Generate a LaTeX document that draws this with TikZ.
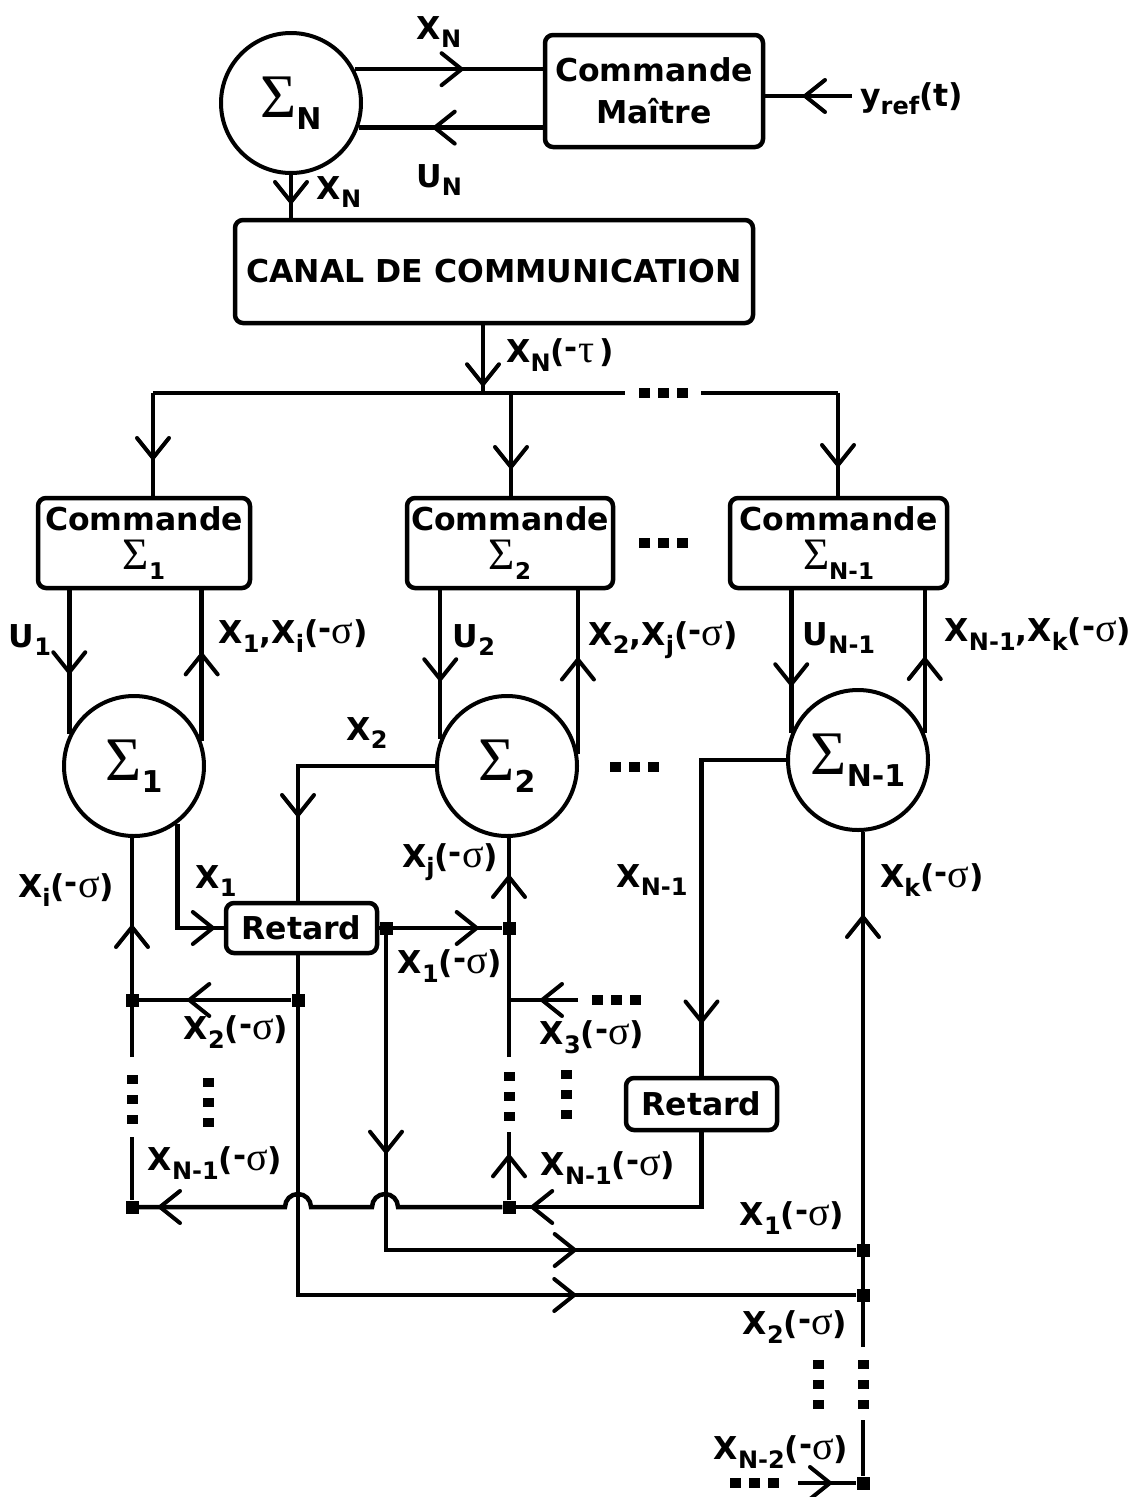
\documentclass[tikz,border=0pt]{standalone}
\usepackage{fontspec}
\setmainfont{DejaVu Sans}
\newfontfamily\gr{Liberation Serif}
\usetikzlibrary{decorations.markings}
\newcommand\Sb[1]{\raisebox{-8.5pt}{\fontsize{24}{24}\selectfont #1}}
\newcommand\sg{{\gr\mdseries\fontsize{40}{40}\selectfont σ}}
\newcommand\tu{{\gr\mdseries\fontsize{40}{40}\selectfont τ}}
\newcommand\Ms{(\raisebox{4pt}{-}\sg)}
\newcommand\CS[1]{{\gr\mdseries\fontsize{62}{62}\selectfont Σ}\raisebox{-12pt}{\fontsize{30}{30}\selectfont #1}}
\newcommand\BS[1]{{\gr\mdseries\fontsize{45}{45}\selectfont Σ}\raisebox{-10pt}{\fontsize{23}{23}\selectfont #1}}
\newcommand\hd[2]{\foreach \dx in {-19,0,19} \fill ({#1+\dx-5.5},{#2-5}) rectangle ({#1+\dx+5.5},{#2+5});}
\newcommand\vd[2]{\foreach \dy in {-20,0,20} \fill ({#1-5.5},{#2+\dy-4.5}) rectangle ({#1+5.5},{#2+\dy+4.5});}
\begin{document}
\begin{tikzpicture}[x=1pt,y=-1pt,
 every node/.style={font=\bfseries\fontsize{31.5}{36}\selectfont, inner sep=0pt},
 ln/.style={line width=4.5pt},
 circ/.style={draw, circle, line width=4pt, minimum size=140pt, inner sep=0pt},
 box/.style={draw, rounded corners=8pt, line width=4.5pt, inner sep=0pt, align=center},
 jn/.style={fill, rectangle, minimum size=13pt, inner sep=0pt},
 ar/.style={postaction={decorate,decoration={markings,mark=at position #1 with {\draw[line width=4pt,line cap=round,line join=miter] (-20pt,16pt)--(0pt,0pt)--(-20pt,-16pt);}}}},
]
\fill[white] (0,0) rectangle (1146,1497);
\useasboundingbox (0,0) rectangle (1146,1497);

% ---------- main nodes ----------
\node[circ] (sN) at (291,103) {\CS{N}};
\node[box, minimum width=218pt, minimum height=112pt] (cm) at (654,91) {Commande\\[5.5pt]Maître};
\node[anchor=base west] (yr) at (860,106) {y\Sb{ref}(t)};
\node[box, minimum width=518pt, minimum height=103pt] (canal) at (494,271.5) {CANAL DE COMMUNICATION};

\node[box, minimum width=212pt, minimum height=90pt] (b1) at (144,543) {Commande\\[3pt]\BS{1}};
\node[box, minimum width=206pt, minimum height=90pt] (b2) at (510,543) {Commande\\[3pt]\BS{2}};
\node[box, minimum width=217pt, minimum height=90pt] (b3) at (838.5,543) {Commande\\[3pt]\BS{N-1}};

\node[circ] (s1) at (134,766) {\CS{1}};
\node[circ] (s2) at (507,766) {\CS{2}};
\node[circ] (s3) at (858,760) {\CS{N-1}};

\node[box, minimum width=151pt, minimum height=50pt] (r1) at (301.5,928) {Retard};
\node[box, minimum width=151pt, minimum height=52pt] (r2) at (701.5,1104) {Retard};

% junctions
\node[jn] (j1) at (386,928) {};
\node[jn] (j2) at (509,928) {};
\node[jn] (j3) at (298,1000) {};
\node[jn] (j4) at (132,1000) {};
\node[jn] (j5) at (132,1207) {};
\node[jn] (j6) at (509,1207) {};
\node[jn] (jR1) at (863,1250) {};
\node[jn] (jR2) at (863,1295) {};
\node[jn] (jR3) at (863,1483) {};

% free ends
\coordinate (yin) at (852,96);
\coordinate (bus) at (483,393);
\coordinate (bL) at (153,393);
\coordinate (bM) at (511,393);
\coordinate (bR) at (838,393);
\coordinate (bg1) at (625,393);
\coordinate (bg2) at (701,393);
\coordinate (lv1) at (132,1057);
\coordinate (lv2) at (132,1137);
\coordinate (mv1) at (509,1057);
\coordinate (mv2) at (509,1132);
\coordinate (x3) at (578,1000);
\coordinate (rv1) at (863,1347);
\coordinate (rv2) at (863,1420);
\coordinate (bin) at (798,1483);

% ---------- connectors ----------
\draw[ln, ar=107pt] (sN.28) -- (sN.28 -| cm.west);
\draw[ln, ar=108pt] (cm.west |- sN.-20) -- (sN.-20);
\draw[ln, ar=47pt] (yin) -- (yin -| cm.east);
\draw[ln, ar=27pt] (sN.south) -- (sN.south |- canal.north);
\draw[ln, ar=59pt] (canal.south -| bus) -- (bus);
\draw[ln] (bL) -- (bg1);
\draw[ln] (bg2) -- (bR);
\draw[ln, ar=65pt] (bL) -- (bL |- b1.north);
\draw[ln, ar=74pt] (bM) -- (bM |- b2.north);
\draw[ln, ar=72pt] (bR) -- (bR |- b3.north);

\draw[ln, ar=82pt] (b1.south -| s1.154) -- (s1.154);
\draw[ln, ar=87pt] (s1.20) -- (s1.20 |- b1.south);
\draw[ln, ar=89pt] (b2.south -| s2.158) -- (s2.158);
\draw[ln, ar=94pt] (s2.10) -- (s2.10 |- b2.south);
\draw[ln, ar=94pt] (b3.south -| s3.158) -- (s3.158);
\draw[ln, ar=74pt] (s3.22) -- (s3.22 |- b3.south);

\draw[ln, ar=186pt] (s2.west) -- (s2.west -| j3) -- (r1.north -| j3);
\draw[ln, ar=140pt] (s1.-53) -- (s1.-53 |- r1.west) -- (r1.west);
\draw[ln] (r1.east) -- (j1);
\draw[ln, ar=84pt] (j1) -- (j2);
\draw[ln, ar=616pt] (r1.south -| j3) -- (j3 |- jR2) -- (jR2);
\draw[ln, ar=217pt, ar=504pt] (j1) -- (j1 |- jR1) -- (jR1);
\draw[ln, ar=102pt] (j3) -- (j4);
\draw[ln, ar=130pt] (lv1) -- (lv1 |- s1.south);
\draw[ln] (lv2) -- (j5);
\draw[ln, ar=180pt] (mv1) -- (mv1 |- s2.south);
\draw[ln, ar=44pt] (j6) -- (mv2);
\draw[ln, ar=36pt] (x3) -- (x3 -| j2);
\draw[ln, ar=244pt] (r2.south) -- (r2.south |- j6) -- (j6);
\draw[ln, ar=372pt] (j6) -- (398,1207) arc[start angle=0,end angle=180,radius=13pt] -- (311,1207) arc[start angle=0,end angle=180,radius=13pt] -- (j5);
\draw[ln, ar=346pt] (s3.west) -- (s3.west -| r2.north) -- (r2.north);
\draw[ln, ar=430pt] (rv1) -- (rv1 |- s3.south);
\draw[ln] (rv2) -- (jR3);
\draw[ln, ar=32pt] (bin) -- (jR3);

% ---------- ellipsis dots ----------
\hd{663}{393}
\hd{663}{543}
\hd{634}{767}
\hd{616}{1000}
\hd{754}{1483}
\vd{132}{1099}
\vd{208}{1102}
\vd{509}{1096}
\vd{566}{1094}
\vd{818}{1384}
\vd{863}{1384}

% ---------- labels ----------
\node (lXNt) at (439,32) {X\Sb{N}};
\node (lUN) at (439,180) {U\Sb{N}};
\node (lXNd) at (339,192) {X\Sb{N}};
\node (lXNtau) at (560,355) {X\Sb{N}(\raisebox{4pt}{-}\tu\,)};
\node (lU1) at (30,640) {U\Sb{1}};
\node (lX1) at (293,636) {X\Sb{1},X\Sb{i}\Ms};
\node (lU2) at (474,640) {U\Sb{2}};
\node (lX2) at (663,640) {X\Sb{2},X\Sb{j}\Ms};
\node (lU3) at (839,638) {U\Sb{N-1}};
\node (lX3) at (1038,634) {X\Sb{N-1},X\Sb{k}\Ms};
\node (lx2) at (367,733) {X\Sb{2}};
\node (lx1) at (216,881) {X\Sb{1}};
\node (lxi) at (66,890) {X\Sb{i}\Ms};
\node (lxj) at (450,862) {X\Sb{j}\Ms};
\node (lx1s) at (450,966) {X\Sb{1}\Ms};
\node (lx2s) at (236,1032) {X\Sb{2}\Ms};
\node (lx3s) at (592,1037) {X\Sb{3}\Ms};
\node (lxn1a) at (215,1163) {X\Sb{N-1}\Ms};
\node (lxn1b) at (608,1168) {X\Sb{N-1}\Ms};
\node (lxn1) at (652,880) {X\Sb{N-1}};
\node (lxk) at (932,880) {X\Sb{k}\Ms};
\node (lx1r) at (792,1218) {X\Sb{1}\Ms};
\node (lx2r) at (795,1327) {X\Sb{2}\Ms};
\node (lxn2) at (781,1452) {X\Sb{N-2}\Ms};
\end{tikzpicture}
\end{document}
